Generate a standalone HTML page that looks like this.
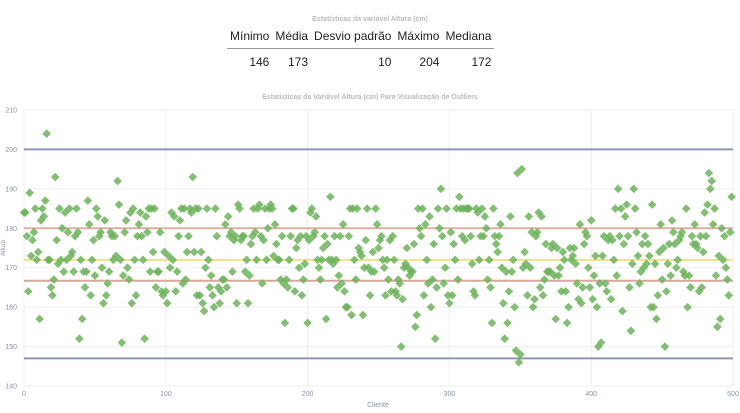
<!DOCTYPE html>
<html><head><meta charset="utf-8"><style>
body{margin:0;background:#fff;font-family:"Liberation Sans",sans-serif;}
#wrap{position:relative;width:740px;height:413px;overflow:hidden;}
.tt{position:absolute;top:16px;left:0;width:740px;text-align:center;font-size:7px;font-weight:bold;color:#bbb;}
table{position:absolute;top:29px;left:227px;border-collapse:collapse;font-size:12px;color:#222;}
th{font-weight:normal;padding:0 3px 5px 3px;border-bottom:1px solid #999;white-space:nowrap;}
td{text-align:right;padding:6px 3px 0 3px;}
</style></head><body>
<div id="wrap">
<div class="tt">Estatísticas da variável Altura (cm)</div>
<table>
<tr><th>Mínimo</th><th>Média</th><th>Desvio padrão</th><th>Máximo</th><th>Mediana</th></tr>
<tr><td>146</td><td>173</td><td>10</td><td>204</td><td>172</td></tr>
</table>
<svg id="chart" width="740" height="413" style="position:absolute;left:0;top:0"></svg>
</div>
<script>
const heights=[184,184,178,164,189,173,177,179,185,172,174,157,182,185,183,187,204,172,172,165,163,167,193,177,171,185,172,180,169,184,172,179,185,173,174,169,178,185,179,152,172,157,169,165,169,187,181,163,172,177,168,185,183,178,179,170,161,182,163,166,169,179,178,172,178,173,192,186,172,151,168,179,182,170,167,184,161,185,172,163,178,181,184,178,172,152,183,179,185,169,185,174,185,165,169,169,179,164,163,174,164,161,173,170,184,172,183,164,169,178,182,185,166,185,167,174,178,185,184,193,174,185,163,185,163,174,161,159,170,185,172,165,168,163,160,185,178,165,161,164,167,167,181,165,183,178,179,169,177,178,161,186,185,177,178,178,169,172,161,168,176,178,185,179,172,185,186,178,166,177,185,172,180,185,186,185,173,181,176,172,172,167,178,166,156,167,165,172,178,185,185,164,175,177,170,178,163,167,171,178,156,177,184,185,178,179,183,172,170,167,172,175,178,157,176,172,188,172,171,178,172,165,168,178,166,181,164,160,160,178,185,158,185,172,167,185,175,174,173,158,170,177,185,170,163,169,174,169,185,181,175,177,178,172,170,163,172,167,177,164,178,172,164,163,167,166,150,162,170,171,175,170,168,169,169,176,155,158,185,180,178,185,163,181,172,166,183,160,167,176,152,165,185,180,190,178,166,170,185,163,161,179,163,176,172,185,167,188,185,178,185,177,185,185,185,178,171,164,163,185,184,172,178,185,178,183,180,167,172,165,156,185,178,176,174,178,181,170,161,152,169,156,164,183,169,172,160,149,194,146,148,195,170,174,171,163,183,170,179,160,162,178,179,184,165,183,163,167,176,169,169,169,175,176,168,157,175,168,170,164,174,172,164,156,160,175,172,173,175,171,166,162,181,161,165,176,179,178,170,165,182,162,168,173,160,150,166,151,173,178,166,164,177,178,162,177,172,185,168,190,178,185,159,176,183,186,178,165,154,171,190,185,179,173,166,169,176,170,178,171,176,173,160,186,160,171,157,163,174,181,167,175,150,164,171,176,168,182,179,176,170,172,177,178,179,169,168,185,160,168,165,178,176,181,176,175,164,178,165,174,184,178,186,194,190,192,181,185,168,155,173,157,180,172,178,170,167,163,179,188];
const yTicks=[140,150,160,170,180,190,200,210];
const xTicks=[0,100,200,300,400,500];
const refLines=[200,147,180,166.7,172];
const refColors=['#8f96b8','#8f96b8','#e0b0a0','#d8a898','#f5e08a'];
const svg=document.getElementById('chart');const NS='http://www.w3.org/2000/svg';
const X0=24,X1=733,Y0=386,Y1=110;
const xs=v=>X0+(v/500)*(X1-X0), ys=v=>Y0-(v-140)/70*(Y0-Y1);
function mk(t,a,p){const e=document.createElementNS(NS,t);for(const k in a)e.setAttribute(k,a[k]);(p||svg).appendChild(e);return e;}
let t=mk('text',{x:370,y:99,'text-anchor':'middle','font-size':7,'font-weight':'bold',fill:'#bbb'});t.textContent='Estatísticas da Variável Altura (cm) Para Visualização de Outliers';


yTicks.forEach(v=>{const l=mk('line',{x1:X0,x2:X1,y1:ys(v),y2:ys(v),stroke:'#eee'});


const tx=mk('text',{x:17,y:ys(v)+2.5,'text-anchor':'end','font-size':7,fill:'#8a93a8'});tx.textContent=v;

});
xTicks.forEach(v=>{const l=mk('line',{x1:xs(v),x2:xs(v),y1:Y1,y2:Y0,stroke:'#eee'});


const tx=mk('text',{x:xs(v),y:396,'text-anchor':'middle','font-size':7,fill:'#8a93a8'});tx.textContent=v;

});
t=mk('text',{x:378,y:407,'text-anchor':'middle','font-size':7,fill:'#8a93a8'});t.textContent='Cliente';


t=mk('text',{x:5,y:248,'text-anchor':'middle','font-size':6,fill:'#8a93a8',transform:'rotate(-90 5 248)'});t.textContent='Altura';


refLines.forEach((v,i)=>{const l=mk('line',{x1:X0,x2:X1,y1:ys(v),y2:ys(v),stroke:refColors[i],'stroke-width':2});

});
heights.forEach((v,i)=>{const cx=xs(i),cy=ys(v),r=4.3;
const p=mk('path',{d:`M${cx} ${cy-r}L${cx+r} ${cy}L${cx} ${cy+r}L${cx-r} ${cy}Z`,fill:'#6cb35a','fill-opacity':0.85});

});
</script>
</body></html>
